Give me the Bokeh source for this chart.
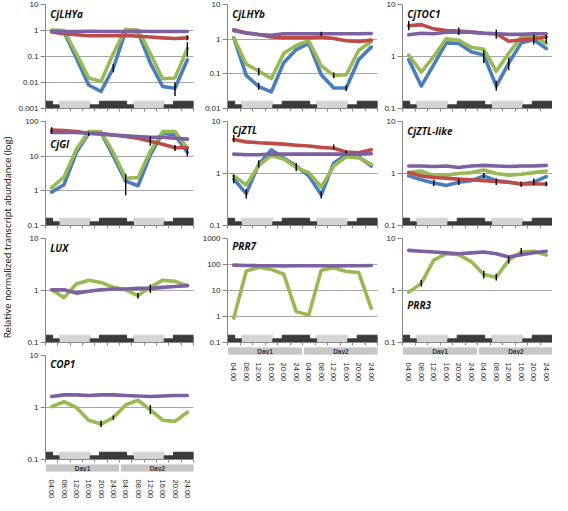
import math
from bokeh.plotting import figure
from bokeh.layouts import row, column
from bokeh.models import Range1d, LinearScale, FixedTicker, Label
from bokeh.core.properties import value
from bokeh.embed import file_html
from bokeh.resources import INLINE

# ---------------- data ----------------
HOURS = [4, 8, 12, 16, 20, 24, 28, 32, 36, 40, 44, 48]
TIME_LABELS = ["04:00", "08:00", "12:00", "16:00", "20:00", "24:00",
               "04:00", "08:00", "12:00", "16:00", "20:00", "24:00"]
DAY_LABELS = ["Day1", "Day2"]
DAY_START = [2.3, 26.6]
DAY_END = [25.7, 50.0]

LIGHT_START = [6.4, 30.5]
LIGHT_END = [16.5, 40.5]
DARK_LOW_START = [2.0, 16.5, 40.5]
DARK_LOW_END = [6.4, 30.5, 50.0]
DARK_HIGH_START = [2.0, 19.5, 43.5]
DARK_HIGH_END = [4.3, 28.3, 50.0]

LHYA_BLUE = [1.0, 0.87, 0.087, 0.008, 0.0045, 0.036, 0.95, 0.87, 0.056, 0.007, 0.006, 0.075]
LHYA_GREEN = [1.05, 1.0, 0.13, 0.015, 0.011, 0.13, 1.1, 1.05, 0.13, 0.014, 0.015, 0.2]
LHYA_RED = [0.87, 0.75, 0.69, 0.63, 0.63, 0.63, 0.65, 0.6, 0.56, 0.52, 0.49, 0.52]
LHYA_PURPLE = [0.94, 0.92, 0.92, 0.93, 0.92, 0.92, 0.92, 0.93, 0.92, 0.92, 0.92, 0.92]
ERR_LHYA = [("blue", 5, 0.025, 0.05), ("blue", 10, 0.003, 0.01),
            ("green", 11, 0.1, 0.35), ("red", 11, 0.42, 0.65)]

LHYB_BLUE = [1.1, 0.09, 0.043, 0.03, 0.21, 0.5, 0.76, 0.094, 0.039, 0.039, 0.26, 0.59]
LHYB_GREEN = [1.1, 0.19, 0.12, 0.073, 0.39, 0.66, 0.9, 0.17, 0.09, 0.094, 0.48, 0.86]
LHYB_RED = [1.87, 1.5, 1.37, 1.16, 1.11, 1.11, 1.11, 1.16, 1.05, 0.9, 0.86, 0.94]
LHYB_PURPLE = [1.76, 1.5, 1.37, 1.3, 1.43, 1.43, 1.43, 1.43, 1.43, 1.43, 1.43, 1.46]
ERR_LHYB = [("green", 2, 0.09, 0.15), ("blue", 2, 0.035, 0.055), ("green", 8, 0.075, 0.11),
            ("blue", 9, 0.032, 0.046), ("purple", 7, 1.25, 1.65)]

TOC1_BLUE = [0.87, 0.27, 0.7, 1.83, 1.78, 1.24, 1.07, 0.27, 0.75, 1.83, 2.1, 1.43]
TOC1_GREEN = [1.07, 0.5, 1.0, 2.2, 2.05, 1.5, 1.37, 0.52, 1.15, 2.37, 2.55, 1.78]
TOC1_RED = [3.9, 4.1, 3.4, 3.15, 3.07, 2.94, 2.8, 2.73, 1.97, 2.1, 2.2, 2.37]
TOC1_PURPLE = [2.62, 2.8, 2.73, 2.94, 2.94, 2.94, 2.8, 2.73, 2.66, 2.66, 2.73, 2.73]
ERR_TOC1 = [("red", 0, 3.2, 4.8), ("red", 4, 2.6, 3.6), ("blue", 6, 0.75, 1.3),
            ("red", 7, 2.2, 3.3), ("blue", 7, 0.22, 0.34), ("green", 8, 0.55, 0.95),
            ("red", 10, 1.7, 2.6), ("red", 11, 1.8, 2.6)]

GI_BLUE = [0.92, 1.5, 12.7, 46, 48, 10, 1.9, 1.4, 11, 46, 41, 12.7]
GI_GREEN = [1.24, 2.5, 15.7, 51, 51, 12.7, 2.3, 2.4, 14, 51, 51, 17]
GI_RED = [57, 55, 51, 46, 44, 41, 37, 33, 27, 22, 17.5, 17.5]
GI_PURPLE = [48, 48, 48, 46, 44, 41, 39, 37, 35, 35, 33, 31]
ERR_GI = [("red", 0, 45, 68), ("blue", 6, 0.75, 3.1), ("red", 8, 20, 37),
          ("red", 10, 14, 21), ("blue", 11, 10, 16), ("purple", 3, 38, 48)]

ZTL_BLUE = [0.78, 0.41, 1.5, 2.85, 1.98, 1.39, 0.9, 0.39, 1.6, 2.3, 2.1, 1.39]
ZTL_GREEN = [0.9, 0.6, 1.43, 2.2, 1.9, 1.3, 1.04, 0.55, 1.39, 2.1, 2.0, 1.5]
ZTL_RED = [4.5, 4.06, 3.9, 3.8, 3.67, 3.5, 3.37, 3.18, 3.05, 2.6, 2.5, 2.85]
ZTL_PURPLE = [2.36, 2.3, 2.3, 2.36, 2.36, 2.36, 2.36, 2.36, 2.36, 2.36, 2.36, 2.4]
ERR_ZTL = [("red", 0, 4.0, 5.5), ("blue", 0, 0.65, 0.95), ("blue", 1, 0.33, 0.5),
           ("blue", 2, 1.3, 1.8), ("blue", 5, 1.1, 1.6), ("blue", 7, 0.33, 0.45),
           ("red", 8, 2.9, 3.6), ("red", 9, 2.4, 2.8)]

ZTLL_BLUE = [0.9, 0.76, 0.66, 0.59, 0.68, 0.73, 0.9, 0.73, 0.68, 0.63, 0.68, 0.87]
ZTLL_GREEN = [1.04, 1.12, 0.9, 0.93, 1.0, 1.04, 1.17, 1.0, 0.93, 0.97, 1.04, 1.12]
ZTLL_RED = [1.04, 0.9, 0.84, 0.81, 0.78, 0.76, 0.73, 0.7, 0.68, 0.63, 0.63, 0.63]
ZTLL_PURPLE = [1.39, 1.39, 1.36, 1.39, 1.3, 1.39, 1.43, 1.39, 1.36, 1.39, 1.39, 1.43]
ERR_ZTLL = [("blue", 2, 0.57, 0.76), ("blue", 4, 0.6, 0.78), ("blue", 6, 0.8, 1.02),
            ("red", 7, 0.6, 0.8), ("red", 9, 0.55, 0.7), ("blue", 10, 0.6, 0.8),
            ("red", 11, 0.57, 0.7)]

LUX_GREEN = [1.03, 0.73, 1.33, 1.58, 1.43, 1.15, 1.03, 0.8, 1.15, 1.58, 1.5, 1.24]
LUX_PURPLE = [1.03, 1.03, 0.89, 0.97, 1.03, 1.07, 1.07, 1.1, 1.1, 1.15, 1.19, 1.24]
ERR_LUX = [("green", 7, 0.7, 0.9), ("purple", 8, 0.9, 1.3)]

PRR7_GREEN = [0.87, 56, 79, 65, 42, 1.54, 1.15, 60, 75, 54, 49, 2.05]
PRR7_PURPLE = [95, 92, 90, 90, 88, 90, 90, 90, 88, 90, 90, 92]
ERR_PRR7 = []

PRR3_GREEN = [0.93, 1.37, 3.85, 5.1, 4.9, 3.6, 2.03, 1.8, 3.85, 5.5, 5.7, 4.8]
PRR3_PURPLE = [5.9, 5.7, 5.5, 5.3, 5.1, 5.3, 5.5, 5.1, 4.4, 4.9, 5.3, 5.7]
ERR_PRR3 = [("green", 1, 1.2, 1.6), ("green", 6, 1.7, 2.4), ("green", 7, 1.55, 2.1),
            ("green", 8, 3.3, 4.5), ("green", 9, 5.0, 6.6)]

COP1_GREEN = [1.04, 1.29, 1.0, 0.57, 0.48, 0.64, 1.12, 1.38, 0.9, 0.57, 0.54, 0.81]
COP1_PURPLE = [1.63, 1.75, 1.75, 1.7, 1.75, 1.75, 1.7, 1.66, 1.63, 1.66, 1.7, 1.7]
ERR_COP1 = [("green", 4, 0.42, 0.56), ("green", 5, 0.58, 0.7), ("green", 8, 0.75, 1.12)]

Y_TITLE = "Relative normalized transcript abundance (log)"

# ---------------- style ----------------
COLORS = {"blue": "#4a7ebb", "green": "#98b954", "red": "#be4b48", "purple": "#7d60a0"}
DRAW_ORDER = ["blue", "green", "red", "purple"]
FONT = "Liberation Sans"
TITLE_FONT = "Open Sans"
AXIS_GRAY = "#868686"
GRID_GRAY = "#a6a6a6"
FRAME_H = 104
STRIP_H = 0.07

# (name, ymin, ymax, series dict, errors, title offset fraction from top)
PANELS = {
    "LHYa": ("CjLHYa", 0.001, 10, {"blue": LHYA_BLUE, "green": LHYA_GREEN, "red": LHYA_RED, "purple": LHYA_PURPLE}, ERR_LHYA, 0.095),
    "LHYb": ("CjLHYb", 0.01, 10, {"blue": LHYB_BLUE, "green": LHYB_GREEN, "red": LHYB_RED, "purple": LHYB_PURPLE}, ERR_LHYB, 0.095),
    "TOC1": ("CjTOC1", 0.1, 10, {"blue": TOC1_BLUE, "green": TOC1_GREEN, "red": TOC1_RED, "purple": TOC1_PURPLE}, ERR_TOC1, 0.095),
    "GI": ("CjGI", 0.1, 100, {"blue": GI_BLUE, "green": GI_GREEN, "red": GI_RED, "purple": GI_PURPLE}, ERR_GI, 0.215),
    "ZTL": ("CjZTL", 0.1, 10, {"blue": ZTL_BLUE, "green": ZTL_GREEN, "red": ZTL_RED, "purple": ZTL_PURPLE}, ERR_ZTL, 0.085),
    "ZTLL": ("CjZTL-like", 0.1, 10, {"blue": ZTLL_BLUE, "green": ZTLL_GREEN, "red": ZTLL_RED, "purple": ZTLL_PURPLE}, ERR_ZTLL, 0.095),
    "LUX": ("LUX", 0.1, 10, {"green": LUX_GREEN, "purple": LUX_PURPLE}, ERR_LUX, 0.095),
    "PRR7": ("PRR7", 0.1, 1000, {"green": PRR7_GREEN, "purple": PRR7_PURPLE}, ERR_PRR7, 0.075),
    "PRR3": ("PRR3", 0.1, 10, {"green": PRR3_GREEN, "purple": PRR3_PURPLE}, ERR_PRR3, 0.635),
    "COP1": ("COP1", 0.1, 10, {"green": COP1_GREEN, "purple": COP1_PURPLE}, ERR_COP1, 0.085),
}

X0 = HOURS[0] - (HOURS[1] - HOURS[0]) / 2
X1 = HOURS[-1] + (HOURS[1] - HOURS[0]) / 2
BOUNDS = [h - (HOURS[1] - HOURS[0]) / 2 for h in HOURS] + [X1]


def make_panel(key, fw, left, right, bottom):
    name, ymin, ymax, series, errs, toff = PANELS[key]
    p = figure(frame_width=fw, frame_height=FRAME_H, x_range=Range1d(X0, X1),
               y_range=Range1d(ymin, ymax), y_axis_type="log",
               min_border_left=left, min_border_right=right, min_border_top=4,
               min_border_bottom=bottom, output_backend="svg", toolbar_location=None)
    p.outline_line_color = None
    p.background_fill_color = "white"
    p.border_fill_color = "white"
    lo, hi = round(math.log10(ymin)), round(math.log10(ymax))
    decades = [10 ** k for k in range(lo, hi + 1)]
    yax = p.yaxis[0]
    yax.ticker = FixedTicker(ticks=decades)
    yax.major_label_overrides = {d: f"{d:g}" for d in decades}
    yax.major_label_text_font = FONT
    yax.major_label_text_font_size = "8px"
    yax.major_label_text_color = "#1a1a1a"
    yax.major_label_standoff = 2
    yax.major_tick_out = 5
    yax.major_tick_in = 0
    yax.minor_tick_line_color = None
    yax.axis_line_color = AXIS_GRAY
    yax.major_tick_line_color = AXIS_GRAY
    xax = p.xaxis[0]
    xax.ticker = FixedTicker(ticks=BOUNDS)
    xax.major_label_text_font_size = "0px"
    xax.major_label_text_color = None
    xax.major_label_standoff = 0
    xax.major_tick_out = 3
    xax.major_tick_in = 0
    xax.minor_tick_line_color = None
    xax.axis_line_color = AXIS_GRAY
    xax.major_tick_line_color = AXIS_GRAY
    p.xgrid.grid_line_color = None
    p.ygrid.ticker = FixedTicker(ticks=decades)
    p.ygrid.grid_line_color = GRID_GRAY
    p.ygrid.grid_line_width = 1

    # light / dark strip
    p.extra_y_ranges = {"strip": Range1d(0, 1)}
    p.extra_y_scales = {"strip": LinearScale()}
    p.quad(left=LIGHT_START, right=LIGHT_END, bottom=0, top=STRIP_H,
           color="#d4d4d4", y_range_name="strip")
    p.quad(left=DARK_LOW_START, right=DARK_LOW_END, bottom=0, top=STRIP_H / 2,
           color="#3a3a3a", y_range_name="strip")
    p.quad(left=DARK_HIGH_START, right=DARK_HIGH_END, bottom=STRIP_H / 2, top=STRIP_H,
           color="#3a3a3a", y_range_name="strip")

    for c in DRAW_ORDER:
        if c in series:
            p.line(HOURS, series[c], color=COLORS[c], line_width=3.6,
                   line_join="round", line_cap="round")
    if errs:
        p.segment(x0=[HOURS[e[1]] for e in errs], y0=[e[2] for e in errs],
                  x1=[HOURS[e[1]] for e in errs], y1=[e[3] for e in errs],
                  color="black", line_width=1.4)

    ly = 10 ** (math.log10(ymax) - toff * (math.log10(ymax) - math.log10(ymin)))
    p.add_layout(Label(x=X0 + 1.5, y=ly, text=name, text_font=TITLE_FONT,
                       text_font_style="bold italic", text_font_size="10px",
                       text_baseline="middle", text_color="#111111"))
    return p


def make_time_axis(fw, left, right, x_range):
    q = figure(frame_width=fw, frame_height=7, x_range=x_range, y_range=Range1d(0, 1),
               min_border_left=left, min_border_right=right, min_border_top=1,
               min_border_bottom=24, y_axis_location=None,
               output_backend="svg", toolbar_location=None)
    q.outline_line_color = None
    q.grid.visible = False
    q.quad(left=DAY_START, right=DAY_END, bottom=0, top=1, color="#c6c6c6")
    mids = [(a + b) / 2 for a, b in zip(DAY_START, DAY_END)]
    q.text(x=mids, y=[0.5] * len(mids), text=DAY_LABELS, text_font=value(FONT),
           text_font_size="6.5px", text_font_style="bold", text_align="center",
           text_baseline="middle", text_color="#333333")
    ax = q.xaxis[0]
    ax.ticker = FixedTicker(ticks=HOURS)
    ax.major_label_overrides = dict(zip(HOURS, TIME_LABELS))
    ax.major_label_orientation = "vertical"
    ax.major_label_text_font = FONT
    ax.major_label_text_font_size = "7.5px"
    ax.major_label_text_color = "#1a1a1a"
    ax.major_label_standoff = 2
    ax.axis_line_color = None
    ax.major_tick_line_color = None
    ax.minor_tick_line_color = None
    return q


# column geometry (frame width, left border, right border)
C1 = (148, 31, 2)
C2 = (150, 32, 3)
C3 = (150, 22, 0)

col1 = [make_panel("LHYa", *C1, 9), make_panel("GI", *C1, 9),
        make_panel("LUX", *C1, 9), make_panel("COP1", *C1, 4)]
col1.append(make_time_axis(*C1, col1[-1].x_range))
col2 = [make_panel("LHYb", *C2, 9), make_panel("ZTL", *C2, 9), make_panel("PRR7", *C2, 4)]
col2.append(make_time_axis(*C2, col2[-1].x_range))
col3 = [make_panel("TOC1", *C3, 9), make_panel("ZTLL", *C3, 9), make_panel("PRR3", *C3, 4)]
col3.append(make_time_axis(*C3, col3[-1].x_range))

t = figure(width=14, height=495, x_range=Range1d(0, 14), y_range=Range1d(0, 495),
           min_border=0, x_axis_location=None, y_axis_location=None,
           output_backend="svg", toolbar_location=None)
t.outline_line_color = None
t.grid.visible = False
t.add_layout(Label(x=6.5, y=258, text=Y_TITLE, angle=math.pi / 2, text_align="center",
                   text_baseline="middle", text_font="Lato", text_font_size="10px",
                   text_color="#222222"))

layout = row(t, column(*col1, spacing=0), column(*col2, spacing=0),
             column(*col3, spacing=0), spacing=0)

open("out.html", "w").write(file_html(layout, INLINE))
